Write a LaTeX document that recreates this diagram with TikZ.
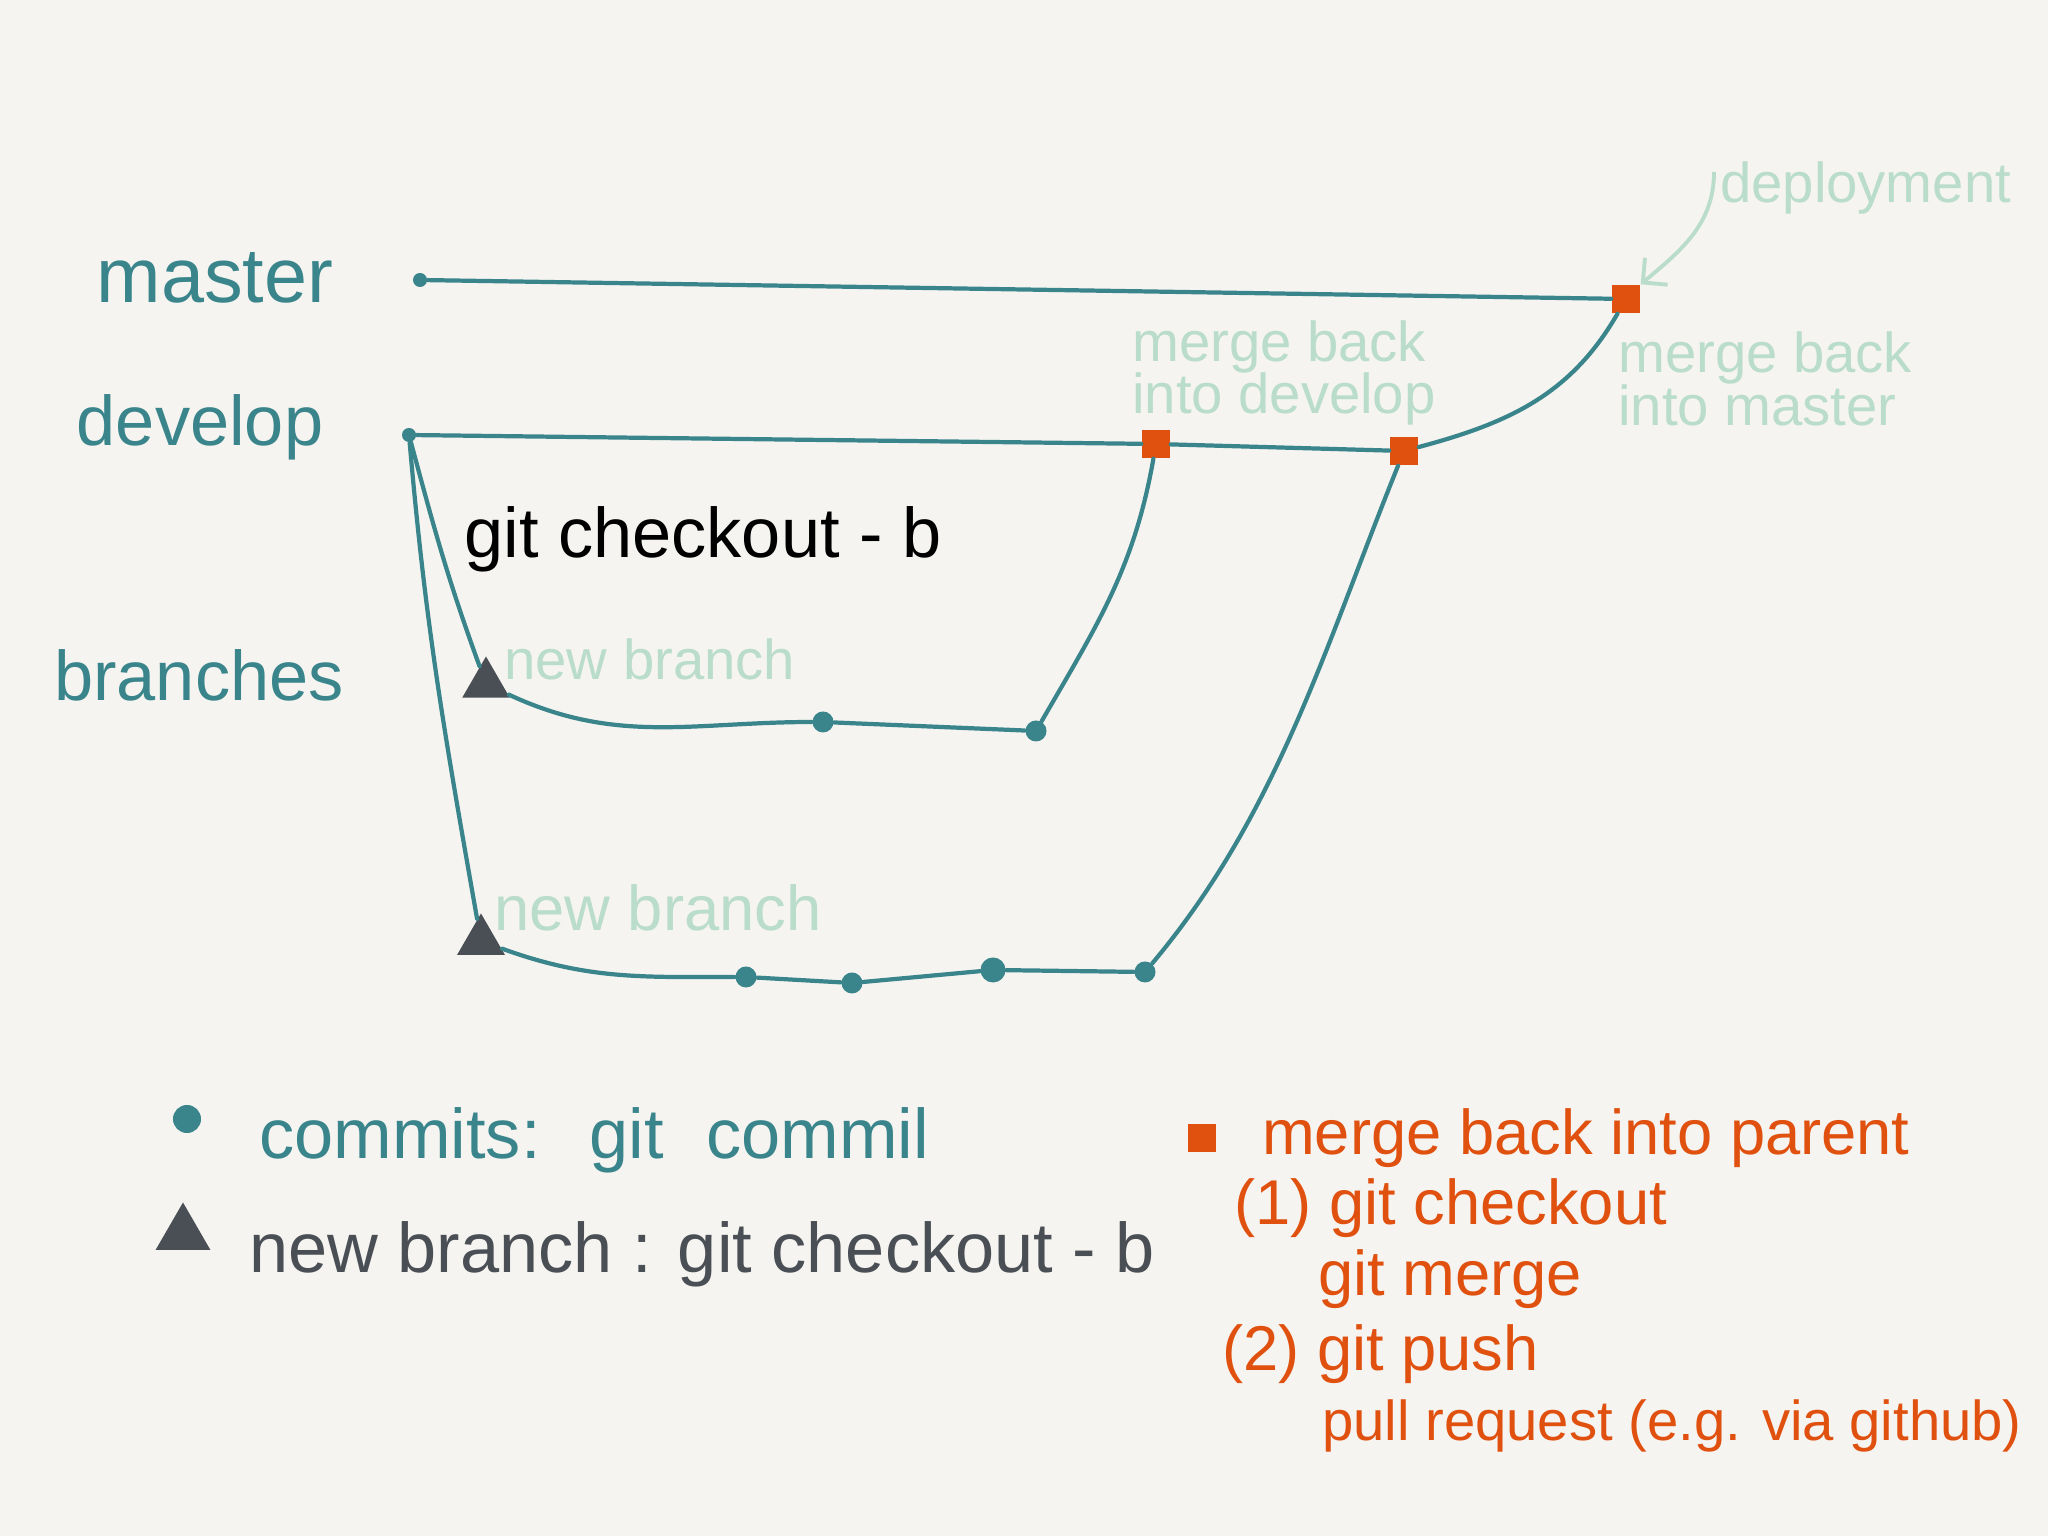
\documentclass[tikz,border=0pt]{standalone}
\usepackage{fontspec}
\setmainfont{Liberation Sans}
\usetikzlibrary{arrows.meta,shapes.geometric}
\definecolor{paper}{HTML}{F5F4F0}
\definecolor{gitteal}{HTML}{3A858B}
\definecolor{mint}{HTML}{B9DCCB}
\definecolor{mergeorange}{HTML}{E0500F}
\definecolor{slate}{HTML}{4A4F55}

\begin{document}
\begin{tikzpicture}[x=0.01cm,y=0.01cm,
  branchline/.style={gitteal, line width=1.2pt, line cap=round},
  commit/.style={circle, fill=gitteal, inner sep=0pt, minimum size=0.21cm},
  startpt/.style={circle, fill=gitteal, inner sep=0pt, minimum size=0.14cm},
  newbranch/.style={regular polygon, regular polygon sides=3, fill=slate, inner sep=0pt, minimum size=0.55cm},
  mergept/.style={rectangle, fill=mergeorange, inner sep=0pt, minimum size=0.28cm},
  rowlabel/.style={text=gitteal, font=\fontsize{20}{24}\selectfont},
  note/.style={text=mint, font=\fontsize{16}{15}\selectfont, align=left, anchor=west, inner sep=1pt},
  legend/.style={font=\fontsize{20}{24}\selectfont, anchor=west, inner sep=1pt},
  parentkey/.style={legend, text=mergeorange, font=\fontsize{18}{20}\selectfont},
]
\fill[paper] (0,0) rectangle (2048,1536);
\useasboundingbox (0,0) rectangle (2048,1536);

% row labels
\node[rowlabel, font=\fontsize{22}{26}\selectfont] (lmaster) at (215,1258) {master};
\node[rowlabel] (ldevelop) at (200,1109) {develop};
\node[rowlabel] (lbranches) at (199,861) {branches};

% commits, branch points and merges
\node[startpt] (m0) at (420,1256) {};
\node[startpt] (d0) at (409,1101) {};
\node[mergept] (M) at (1626,1237) {};
\node[mergept] (D1) at (1156,1092) {};
\node[mergept] (D2) at (1404,1085) {};
\node[newbranch] (T1) at (486,852) {};
\node[commit] (c11) at (823,814) {};
\node[commit] (c12) at (1036,805) {};
\node[newbranch] (T2) at (481,595) {};
\node[commit] (c21) at (746,559) {};
\node[commit] (c22) at (852,553) {};
\node[commit, minimum size=0.25cm] (c23) at (993,566) {};
\node[commit] (c24) at (1145,564) {};

\draw[branchline] (m0) -- (M);
\draw[branchline] (d0) -- (D1) -- (D2) to[out=15,in=-120] (M);
\draw[branchline] (d0) to[out=-75,in=110] (T1);
\draw[branchline] (T1) to[out=-25,in=180] (c11) -- (c12) to[out=60,in=-100] (D1);
\draw[branchline] (d0) to[out=-85,in=100] (T2);
\draw[branchline] (T2) to[out=-20,in=180] (c21) -- (c22) -- (c23) -- (c24)
  to[out=50,in=-112,looseness=0.9] (D2);

% annotations
\node[font=\fontsize{20}{24}\selectfont] (gcb) at (703,997) {git checkout - b};
\node[note] (nb1) at (500,877) {new branch};
\node[note, font=\fontsize{18}{20}\selectfont] (nb2) at (490,628) {new branch};
\node[note] (mdev) at (1128,1163) {merge back\\into develop};
\node[note] (mmas) at (1614,1157) {merge back\\into master};
\node[note] (dep) at (1716,1348) {deployment};
\draw[mint, line width=1.1pt, -{Straight Barb[length=5pt]}] (dep.west) ++(-2,16)
  to[out=-90,in=40] (M.north east);

% legend
\node[commit, minimum size=0.28cm] (kc) at (187,417) {};
\node[legend, text=gitteal] (kctext) at (255,396) {commits:\hspace{0.7em}git\hspace{0.6em}commil};
\node[newbranch, minimum size=0.63cm] (kt) at (183,302) {};
\node[legend, text=slate] (kttext) at (245,282) {new branch : git checkout - b};
\node[mergept] (km) at (1202,398) {};
\node[parentkey] (kmtext) at (1258,398) {merge back into parent};
\node[parentkey] (k1) at (1230,328) {(1) git checkout};
\node[parentkey] (k1b) at (1314,257) {git merge};
\node[parentkey] (k2) at (1218,182) {(2) git push};
\node[parentkey, font=\fontsize{16}{18}\selectfont] (k2b) at (1318,110) {pull request (e.g. via github)};
\end{tikzpicture}
\end{document}
